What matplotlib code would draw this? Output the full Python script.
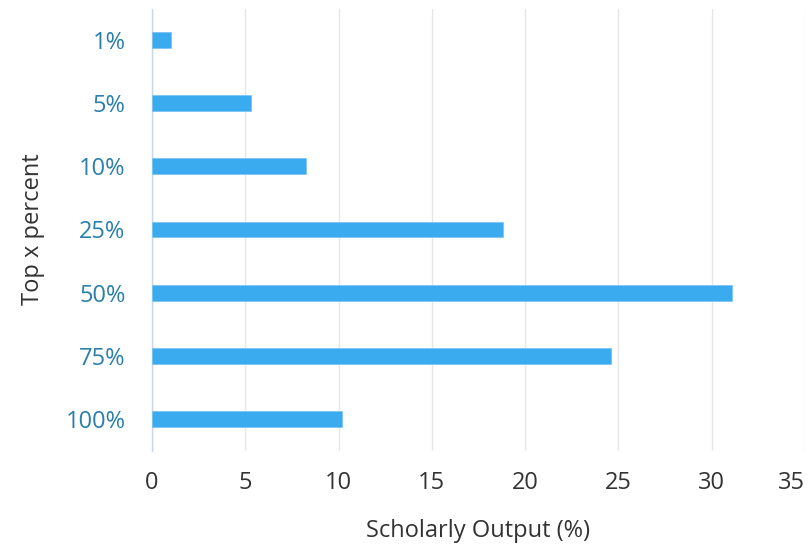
import matplotlib
matplotlib.use("Agg")
import matplotlib.pyplot as plt

categories = ["1%", "5%", "10%", "25%", "50%", "75%", "100%"]
values = [1.0, 5.3, 8.25, 18.8, 31.1, 24.6, 10.2]
xticks = [0, 5, 10, 15, 20, 25, 30, 35]

plt.rcParams['font.family'] = ['Open Sans', 'DejaVu Sans']

fig = plt.figure(figsize=(8.1, 5.45), dpi=100)
W, H = 810, 545
ax = fig.add_axes([152 / W, 1 - 450.5 / H, (805 - 152) / W, (450.5 - 8.5) / H])

y = list(range(len(categories)))
ax.barh(y, values, height=0.25, color="#3aabef", edgecolor="#7cc4f4", linewidth=0.6, zorder=3)
ax.set_ylim(len(categories) - 0.5, -0.5)
ax.set_xlim(0, 35)
ax.set_xticks(xticks)
ax.set_yticks(y)
ax.set_yticklabels(categories)

ax.grid(axis="x", color="#e6e6e6", linewidth=1, zorder=0)
ax.grid(axis="y", visible=False)
for s in ["top", "right", "bottom"]:
    ax.spines[s].set_visible(False)
ax.spines["left"].set_color("#ccd6eb")
ax.spines["left"].set_linewidth(1)

fs = 17
ax.tick_params(axis="y", length=0, pad=19, labelsize=fs, labelcolor="#2a7fab")
ax.tick_params(axis="x", length=0, pad=15, labelsize=fs, labelcolor="#333333")
ax.get_xticklabels()[-1].set_horizontalalignment("right")

ax.set_xlabel("Scholarly Output (%)", fontsize=fs, color="#333333")
ax.set_ylabel("Top x percent", fontsize=fs, color="#333333")
ax.xaxis.set_label_coords(0.5, (450.5 - 519) / 442)
ax.yaxis.set_label_coords((45 - 152) / 653, 0.5)

fig.savefig("out.png", dpi=100)
